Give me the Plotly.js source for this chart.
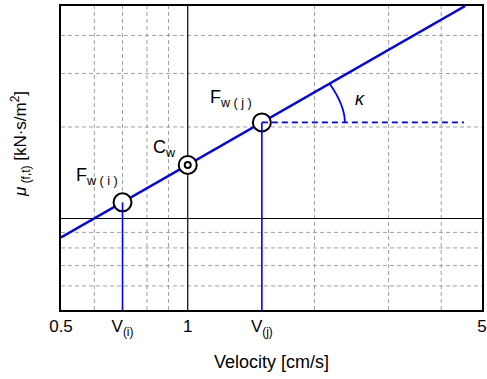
<!DOCTYPE html>
<html>
<head>
<meta charset="utf-8">
<script src="https://cdn.plot.ly/plotly-3.0.1.min.js"></script>
<style>html,body{margin:0;padding:0;background:#fff;}#chart{width:487px;height:379px;}</style>
</head>
<body>
<div id="chart"></div>
<script>
// ---- data ----
const xTickVals = [0.5, 0.7, 1, 1.5, 5];
const xTickText = ['0.5', 'V<sub>(i)</sub>', '1', 'V<sub>(j)</sub>', '5'];
const gridX = [0.6, 0.7, 0.8, 0.9, 2, 3, 4];
const gridY = [0.6, 0.7, 0.8, 0.9, 2, 3, 4];
const refX = 1;       // solid reference line (x)
const refY = 1;       // solid reference line (y)
const lineX = [0.5, 4.56];      // main regression line
const lineY = [0.867, 5.0];
const fwX = [0.7, 1.5];         // F_w(i), F_w(j)
const fwY = [1.13, 2.07];
const cwX = [1];                // C_w
const cwY = [1.5];
const yMin = 0.5, yMax = 5, xMin = 0.5, xMax = 5;
const kappaEndX = 4.53;         // end of dashed horizontal from F_w(j)

const blue = '#0000ff';
const font = 'Arial, "Liberation Sans", sans-serif';

const traces = [
  {x: lineX, y: lineY, mode: 'lines', line: {color: blue, width: 2.5}, hoverinfo: 'skip'},
  {x: fwX, y: fwY, mode: 'markers', marker: {symbol: 'circle', size: 18, color: '#fff', line: {color: '#000', width: 2}}},
  {x: cwX, y: cwY, mode: 'markers', marker: {symbol: 'circle', size: 18, color: '#fff', line: {color: '#000', width: 2}}},
  {x: cwX, y: cwY, mode: 'markers', marker: {symbol: 'circle', size: 6, color: '#fff', line: {color: '#000', width: 2}}},
  {x: [fwX[0], fwX[0]], y: [yMin, fwY[0]], mode: 'lines', line: {color: blue, width: 1.6}},
  {x: [fwX[1], fwX[1]], y: [yMin, fwY[1]], mode: 'lines', line: {color: blue, width: 1.6}},
  {x: [fwX[1], kappaEndX], y: [fwY[1], fwY[1]], mode: 'lines', line: {color: blue, width: 1.8, dash: '6px,4px'}}
];

const shapes = [];
gridX.forEach(v => shapes.push({type: 'line', layer: 'below', xref: 'x', yref: 'paper', x0: v, x1: v, y0: 0, y1: 1,
  line: {color: '#a0a0a0', width: 1, dash: '4px,3px'}}));
gridY.forEach(v => shapes.push({type: 'line', layer: 'below', xref: 'paper', yref: 'y', x0: 0, x1: 1, y0: v, y1: v,
  line: {color: '#a0a0a0', width: 1, dash: '4px,3px'}}));
shapes.push({type: 'line', layer: 'below', xref: 'x', yref: 'paper', x0: refX, x1: refX, y0: 0, y1: 1, line: {color: '#000', width: 1.2}});
shapes.push({type: 'line', layer: 'below', xref: 'paper', yref: 'y', x0: 0, x1: 1, y0: refY, y1: refY, line: {color: '#000', width: 1.2}});
// kappa angle arc (pixel path anchored at F_w(j))
shapes.push({type: 'path', xref: 'x', yref: 'y', xsizemode: 'pixel', ysizemode: 'pixel',
  xanchor: fwX[1], yanchor: fwY[1], path: 'M 83,0 C 83,14 76,27 68,38.5',
  line: {color: blue, width: 1.8}});

const annotations = [
  {xref: 'paper', yref: 'paper', x: (74 - 61) / 421, y: (310 - 176) / 304, xanchor: 'left', yanchor: 'middle',
   text: 'F<sub>w ( i )</sub>', showarrow: false, font: {family: font, size: 18, color: '#000'}},
  {xref: 'paper', yref: 'paper', x: (151 - 61) / 421, y: (310 - 148) / 304, xanchor: 'left', yanchor: 'middle',
   text: 'C<sub>w</sub>', showarrow: false, font: {family: font, size: 18, color: '#000'}},
  {xref: 'paper', yref: 'paper', x: (208 - 61) / 421, y: (310 - 98) / 304, xanchor: 'left', yanchor: 'middle',
   text: 'F<sub>w ( j )</sub>', showarrow: false, font: {family: font, size: 18, color: '#000'}},
  {xref: 'paper', yref: 'paper', x: (360 - 61) / 421, y: (310 - 99) / 304, xanchor: 'center', yanchor: 'middle',
   text: '<i>κ</i>', showarrow: false, font: {family: font, size: 18, color: '#000'}},
  {xref: 'paper', yref: 'paper', x: (20 - 61) / 421, y: (310 - 144) / 304, xanchor: 'center', yanchor: 'middle', textangle: -90,
   text: '<i>μ</i><sub> (f,t)</sub> [kN·s/m<sup>2</sup>]', showarrow: false, font: {family: font, size: 17, color: '#000'}},
  {xref: 'paper', yref: 'paper', x: (271 - 61) / 421, y: (310 - 362) / 304, xanchor: 'center', yanchor: 'middle',
   text: 'Velocity [cm/s]', showarrow: false, font: {family: font, size: 18, color: '#000'}}
];

const layout = {
  width: 487, height: 379,
  margin: {l: 61, r: 5, t: 6, b: 69},
  paper_bgcolor: '#fff', plot_bgcolor: '#fff',
  showlegend: false,
  font: {family: font, color: '#000'},
  xaxis: {type: 'log', range: [Math.log10(xMin), Math.log10(xMax)], showgrid: false, zeroline: false,
    tickmode: 'array', tickvals: xTickVals, ticktext: xTickText, ticks: '',
    tickfont: {family: font, size: 17, color: '#000'},
    showline: true, mirror: true, linecolor: '#000', linewidth: 2},
  yaxis: {type: 'log', range: [Math.log10(yMin), Math.log10(yMax)], showgrid: false, zeroline: false,
    showticklabels: false, ticks: '',
    showline: true, mirror: true, linecolor: '#000', linewidth: 2},
  shapes: shapes,
  annotations: annotations
};

Plotly.newPlot('chart', traces, layout, {staticPlot: true, displayModeBar: false});
</script>
</body>
</html>
